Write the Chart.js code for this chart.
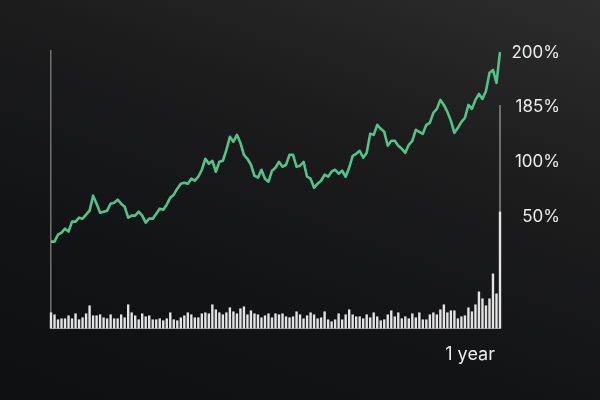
<!DOCTYPE html>
<html>
<head>
<meta charset="utf-8">
<script src="https://cdn.jsdelivr.net/npm/chart.js@4"></script>
<style>
  html, body { margin: 0; padding: 0; }
  body {
    width: 600px;
    height: 400px;
    background: linear-gradient(200deg, #2d2d2e 0%, #1c1c1d 35%, #121315 70%, #0f1012 100%);
  }
  #wrap { width: 600px; height: 400px; }
</style>
</head>
<body>
<div id="wrap"><canvas id="chart" width="600" height="400"></canvas></div>
<script>
// price line (chart units, 0 = volume baseline)
const price = [
  87, 87, 94, 96, 100, 97, 107, 107, 111, 110,
  114, 118, 133, 125, 116, 117, 118, 125, 126, 129,
  125, 122, 111, 113, 113, 117, 113, 106, 110, 110,
  115, 120, 119, 124, 131, 134, 140, 145, 146, 145,
  150, 148, 152, 159, 170, 165, 168, 157, 167, 168,
  179, 192, 187, 194, 186, 174, 170, 164, 153, 151,
  159, 150, 147, 158, 161, 167, 162, 164, 174, 174,
  162, 163, 167, 152, 150, 141, 145, 148, 154, 152,
  157, 159, 155, 158, 152, 161, 173, 175, 178, 171,
  176, 195, 194, 204, 200, 197, 183, 188, 188, 183,
  180, 176, 184, 188, 199, 197, 195, 204, 206, 216,
  220, 229, 224, 217, 208, 196, 201, 207, 211, 224,
  220, 229, 235, 230, 238, 256, 259, 246, 277
];

// traded volume bars
const volume = [
  16, 14, 9, 10, 10, 13, 10, 15, 9, 11,
  15, 23, 13, 13, 14, 11, 10, 14, 10, 10,
  14, 11, 24, 16, 13, 9, 15, 12, 13, 9,
  9, 10, 8, 10, 16, 9, 8, 11, 13, 16,
  14, 11, 11, 15, 16, 15, 24, 19, 16, 14,
  16, 21, 17, 15, 20, 22, 14, 18, 15, 14,
  11, 13, 15, 11, 15, 14, 15, 12, 11, 12,
  17, 14, 10, 13, 16, 14, 10, 11, 17, 9,
  7, 9, 15, 9, 14, 19, 14, 12, 12, 10,
  14, 11, 16, 12, 8, 9, 14, 18, 12, 16,
  10, 12, 10, 15, 11, 16, 9, 9, 14, 16,
  14, 19, 24, 16, 18, 18, 10, 12, 13, 21,
  17, 24, 37, 30, 23, 30, 55, 35, 117
];

const days = price.map((_, i) => "Day " + (i + 1));

// right hand labels and where they sit on the price scale
const tickValues = [278, 224, 169, 114];
const tickLabels = ["200%", "185%", "100%", "50%"];

const textColor = "#ececec";
const lineColor = "#55c28a";
const barColor = "#e4e4e4";
const axisColor = "#707070";

// thin gray marker on the right edge, from the 185% level down
const rightMarker = {
  id: "rightMarker",
  beforeDatasetsDraw(chart) {
    const { ctx, chartArea, scales } = chart;
    const top = scales.y.getPixelForValue(tickValues[1]);
    ctx.save();
    ctx.strokeStyle = "#8a8a8a";
    ctx.lineWidth = 1.5;
    ctx.beginPath();
    ctx.moveTo(chartArea.right, top);
    ctx.lineTo(chartArea.right, chartArea.bottom);
    ctx.stroke();
    ctx.restore();
  }
};

new Chart(document.getElementById("chart").getContext("2d"), {
  data: {
    labels: days,
    datasets: [
      {
        type: "line",
        data: price,
        yAxisID: "y",
        borderColor: lineColor,
        borderWidth: 2.6,
        borderJoinStyle: "round",
        pointRadius: 0,
        tension: 0,
        order: 0
      },
      {
        type: "bar",
        data: volume,
        yAxisID: "vol",
        backgroundColor: barColor,
        barPercentage: 0.68,
        categoryPercentage: 1,
        clip: false,
        order: 1
      }
    ]
  },
  plugins: [rightMarker],
  options: {
    responsive: false,
    animation: false,
    layout: { padding: { left: 51, right: 40, top: 51, bottom: 35 } },
    plugins: {
      legend: { display: false },
      tooltip: { enabled: false }
    },
    scales: {
      x: {
        offset: false,
        grid: { display: false, drawTicks: false },
        ticks: { display: false },
        border: { display: true, color: "#8c8c8c", width: 1 },
        title: {
          display: true,
          text: "1 year ",
          align: "end",
          color: textColor,
          font: { family: "Inter", size: 18 },
          padding: { top: 15, bottom: 0 }
        }
      },
      y: {
        position: "right",
        min: 0,
        max: 278,
        grid: { display: false, drawTicks: false },
        border: { display: false },
        afterBuildTicks: scale => {
          scale.ticks = tickValues.map(v => ({ value: v }));
        },
        afterFit: scale => { scale.width = 60; },
        ticks: {
          color: textColor,
          font: { family: "Inter", size: 17 },
          crossAlign: "far",
          padding: 0,
          labelOffset: 2,
          callback: (value, index) => tickLabels[index]
        }
      },
      vol: {
        position: "left",
        min: 0,
        max: 278,
        grid: { display: false, drawTicks: false },
        ticks: { display: false },
        border: { display: true, color: axisColor, width: 1.5 }
      }
    }
  }
});
</script>
</body>
</html>
